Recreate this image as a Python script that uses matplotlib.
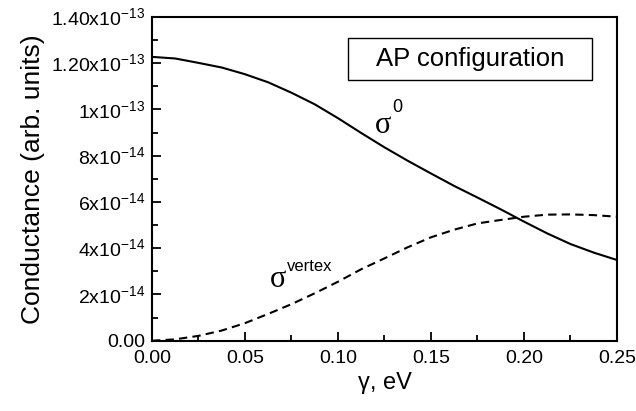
import numpy as np
import matplotlib
matplotlib.use("Agg")
import matplotlib.pyplot as plt
from matplotlib.patches import Rectangle
from matplotlib.ticker import MultipleLocator

plt.rcParams['font.family'] = ['Liberation Sans', 'DejaVu Sans']

# gamma (eV) and conductances, in units of 1e-13
gamma = [0.0, 0.0125, 0.025, 0.0375, 0.05, 0.0625, 0.075, 0.0875, 0.10, 0.1125,
         0.125, 0.1375, 0.15, 0.1625, 0.175, 0.1875, 0.20, 0.2125, 0.225, 0.2375, 0.25]
sigma0 = [1.227, 1.220, 1.201, 1.181, 1.152, 1.117, 1.072, 1.022, 0.962, 0.898,
          0.836, 0.778, 0.723, 0.669, 0.619, 0.568, 0.515, 0.464, 0.418, 0.381, 0.349]
sigma_vertex = [0.0, 0.006, 0.021, 0.044, 0.076, 0.116, 0.158, 0.205, 0.255, 0.309,
                0.356, 0.404, 0.447, 0.480, 0.507, 0.522, 0.536, 0.545, 0.546, 0.543, 0.536]

ytick_vals = [0.0, 0.2, 0.4, 0.6, 0.8, 1.0, 1.2, 1.4]
ytick_labels = ['0.00', r'2x10$^{\mathregular{-14}}$', r'4x10$^{\mathregular{-14}}$',
                r'6x10$^{\mathregular{-14}}$', r'8x10$^{\mathregular{-14}}$',
                r'1x10$^{\mathregular{-13}}$', r'1.20x10$^{\mathregular{-13}}$',
                r'1.40x10$^{\mathregular{-13}}$']
xtick_vals = [0.0, 0.05, 0.10, 0.15, 0.20, 0.25]
xtick_labels = ['0.00', '0.05', '0.10', '0.15', '0.20', '0.25']

fig = plt.figure(figsize=(6.36, 4.11), dpi=100)
ax = fig.add_axes([0.239, 0.171, 0.731, 0.788])

ax.plot(gamma, np.array(sigma0) * 1e-13, color='black', lw=1.5)
ax.plot(gamma, np.array(sigma_vertex) * 1e-13, color='black', lw=1.5,
        dashes=(4, 2.5))

ax.set_xlim(0, 0.25)
ax.set_ylim(0, 1.4e-13)
ax.set_yticks(np.array(ytick_vals) * 1e-13, ytick_labels)
ax.set_xticks(xtick_vals, xtick_labels)
ax.yaxis.set_minor_locator(MultipleLocator(1e-14))
ax.xaxis.set_minor_locator(MultipleLocator(0.025))
ax.tick_params(which='both', direction='in', top=False, right=False,
               labelsize=14, width=1.3)
ax.tick_params(which='major', length=6.5)
ax.tick_params(axis='y', which='major', pad=5)
ax.tick_params(axis='x', which='major', pad=7)
ax.tick_params(which='minor', length=4)
for s in ax.spines.values():
    s.set_linewidth(1.5)

ax.set_ylabel('Conductance (arb. units)', fontsize=19, labelpad=4)
ax.set_xlabel('γ, eV', fontsize=17, labelpad=3)

# AP configuration box
ax.add_patch(Rectangle((0.4215, 0.805), 0.5245, 0.1296, transform=ax.transAxes,
                       fill=False, ec='black', lw=1.0))
ax.text(0.684, 0.870, 'AP configuration', transform=ax.transAxes, fontsize=18.5,
        ha='center', va='center')

# curve labels
ax.text(0.1242, 0.898e-13, 'σ', family='Liberation Serif', fontsize=22,
        ha='center', va='baseline')
ax.text(0.1290, 0.988e-13, '0', fontsize=13, ha='left', va='baseline')
ax.text(0.0677, 0.232e-13, 'σ', family='Liberation Serif', fontsize=22,
        ha='center', va='baseline')
ax.text(0.0726, 0.303e-13, 'vertex', fontsize=12, ha='left', va='baseline')

fig.savefig('out.png', dpi=100)
